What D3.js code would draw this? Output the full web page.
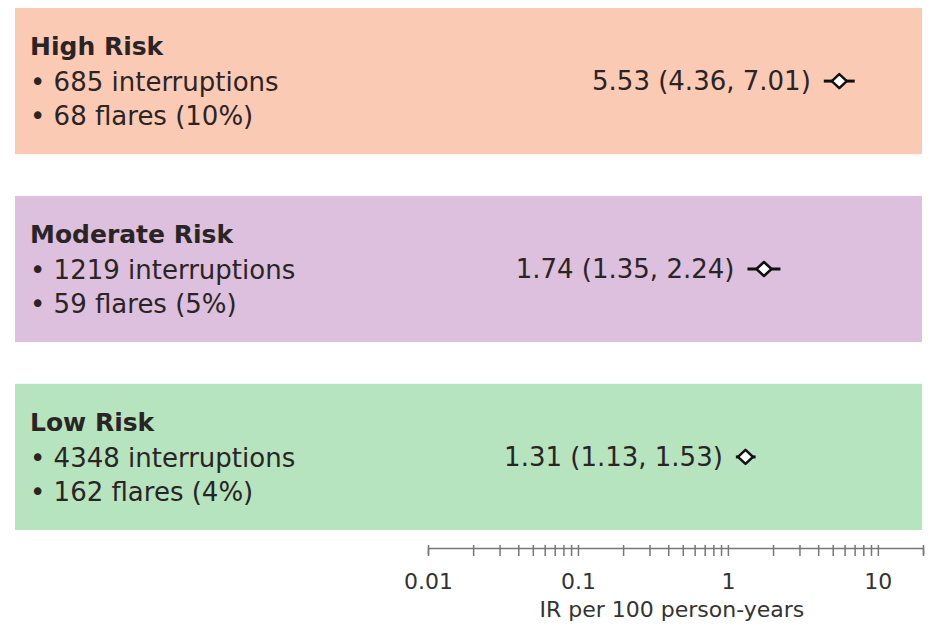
<!DOCTYPE html>
<html>
<head>
<meta charset="utf-8">
<script src="https://cdn.jsdelivr.net/npm/d3@7"></script>
<style>
  html, body { margin: 0; padding: 0; background: #ffffff; }
  svg { display: block; }
</style>
</head>
<body>
<svg id="chart" width="928" height="629"></svg>
<script>
// Incidence of flares after treatment interruption, by risk group
const groups        = ["High Risk", "Moderate Risk", "Low Risk"];
const interruptions = [685, 1219, 4348];
const flares        = [68, 59, 162];
const flarePct      = [10, 5, 4];
const irEstimate    = [5.53, 1.74, 1.31];
const irLower       = [4.36, 1.35, 1.13];
const irUpper       = [7.01, 2.24, 1.53];
const panelColors   = ["#fbcab5", "#dcc0dd", "#b6e4bf"];
const axisDomain    = [0.01, 20];
const tickLabels    = [0.01, 0.1, 1, 10];
const axisTitle     = "IR per 100 person-years";

const FONT = "'DejaVu Sans', 'Noto Sans', sans-serif";
const svg = d3.select("#chart");

const x = d3.scaleLog().domain(axisDomain).range([428, 923]);
const y = d3.scaleBand().domain(groups).range([8, 530]).paddingInner(0.222).paddingOuter(0);

const rows = groups.map((g, i) => ({
  group: g,
  n: interruptions[i],
  flares: flares[i],
  pct: flarePct[i],
  est: irEstimate[i],
  lo: irLower[i],
  hi: irUpper[i],
  color: panelColors[i]
}));

const row = svg.selectAll("g.row").data(rows).join("g")
  .attr("class", "row")
  .attr("transform", d => `translate(0,${y(d.group)})`);

// coloured background panels
row.append("rect")
  .attr("x", 15).attr("y", 0)
  .attr("width", 907).attr("height", y.bandwidth())
  .attr("fill", d => d.color);

// group descriptions
const desc = row.append("text")
  .attr("font-family", FONT)
  .attr("fill", "#2b2424");
desc.append("tspan")
  .attr("x", 30).attr("y", 47)
  .attr("font-size", 25).attr("font-weight", 700)
  .text(d => d.group);
desc.append("tspan")
  .attr("x", 30).attr("y", 83)
  .attr("font-size", 26)
  .text(d => `\u2022 ${d.n} interruptions`);
desc.append("tspan")
  .attr("x", 30).attr("y", 117)
  .attr("font-size", 26)
  .text(d => `\u2022 ${d.flares} flares (${d.pct}%)`);

const mid = y.bandwidth() / 2;
const fmt = d3.format(".2f");

// estimate labels
row.append("text")
  .attr("x", d => x(d.lo) - 13)
  .attr("y", mid)
  .attr("dy", "0.36em")
  .attr("text-anchor", "end")
  .attr("font-family", FONT)
  .attr("font-size", 26)
  .attr("fill", "#2b2424")
  .text(d => `${fmt(d.est)} (${fmt(d.lo)}, ${fmt(d.hi)})`);

// confidence interval whiskers
row.append("line")
  .attr("x1", d => x(d.lo)).attr("x2", d => x(d.hi))
  .attr("y1", mid).attr("y2", mid)
  .attr("stroke", "#111").attr("stroke-width", 3);

// point estimate diamonds
row.append("path")
  .attr("d", d => {
    const cx = x(d.est), hw = 7.5, hh = 7;
    return `M${cx - hw},${mid}L${cx},${mid - hh}L${cx + hw},${mid}L${cx},${mid + hh}Z`;
  })
  .attr("fill", "#ffffff")
  .attr("stroke", "#111")
  .attr("stroke-width", 2.5)
  .attr("stroke-linejoin", "round");

// log axis with minor ticks at every 1..9 multiple
const allTicks = [];
for (let e = -2; e <= 1; e++) {
  for (let m = 1; m <= 9; m++) {
    const v = +(m * Math.pow(10, e)).toPrecision(3);
    if (v >= axisDomain[0] && v <= axisDomain[1]) allTicks.push(v);
  }
}

const axisG = svg.append("g")
  .attr("transform", "translate(0,548)")
  .call(d3.axisBottom(x)
    .tickValues(allTicks)
    .tickSizeInner(8)
    .tickSizeOuter(7)
    .tickPadding(17)
    .tickFormat(v => tickLabels.some(t => Math.abs(t - v) < 1e-9) ? String(v) : ""));

axisG.select(".domain").attr("stroke", "#777").attr("stroke-width", 1.5);
axisG.selectAll(".tick line")
  .attr("y1", -3)
  .attr("stroke", "#777").attr("stroke-width", 1.5);
axisG.selectAll(".tick text")
  .attr("font-family", FONT)
  .attr("font-size", 22)
  .attr("fill", "#333");

svg.append("text")
  .attr("x", (x(0.1) + x(10)) / 2 - 56)
  .attr("y", 617)
  .attr("text-anchor", "middle")
  .attr("font-family", FONT)
  .attr("font-size", 22)
  .attr("fill", "#333")
  .text(axisTitle);
</script>
</body>
</html>
